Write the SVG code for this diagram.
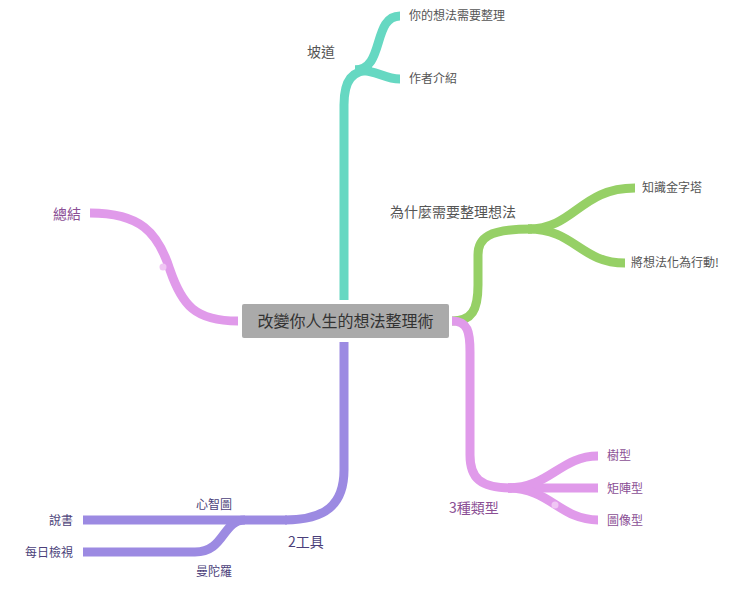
<svg xmlns="http://www.w3.org/2000/svg" width="740" height="592" viewBox="0 0 740 592">
<style>
text{font-family:"Noto Sans CJK TC","Noto Sans CJK SC",sans-serif;font-size:12px}
.c{fill:none;stroke-width:9;stroke-linecap:butt}
.t{stroke:#66d8c2}.g{stroke:#96d066}.p{stroke:#e09aea}.v{stroke:#9c8ae2}
.tg{fill:#555}.pk{fill:#8b4f95}.vt{fill:#4b3f7a}
</style>
<rect width="740" height="592" fill="#fff"/>
<g id="connectors">
<path class="c t" d="M344,300 L344,105 C344,80 352,70 372,70"/>
<path class="c t" d="M355,70 C385,70 372,16 400,16"/>
<path class="c t" d="M355,70 C380,70 382,79 400,79"/>
<path class="c g" d="M452,321 C472,321 478,310 478,285 L478,255 C478,238 488,229 532,229"/>
<path class="c g" d="M528,229 C575,229 580,188 635,188"/>
<path class="c g" d="M528,229 C575,229 580,263 625,263"/>
<path class="c p" d="M452,321 C468,321 470,332 470,352 L470,455 C470,478 480,488 512,488"/>
<path class="c p" d="M508,488 C550,488 560,456 598,456"/>
<path class="c p" d="M508,488 L598,488"/>
<path class="c p" d="M508,488 C550,488 560,520 598,520"/>
<path class="c p" d="M238,321 C195,321 182,305 170,270 C158,232 140,213 90,213"/>
<path class="c v" d="M344,342 L344,470 C344,505 325,520 285,520"/>
<path class="c v" d="M287,520 L83,520"/>
<path class="c v" d="M245,520 C222,520 225,552 195,552 L83,552"/>
<circle cx="163" cy="267" r="3.5" fill="#f0c6f4"/>
<circle cx="555" cy="505" r="3.5" fill="#f0c6f4"/>
</g>
<g id="center">
<rect x="242" y="304" width="207" height="34" rx="2" fill="#aaa"/>
<text x="345.5" y="327" text-anchor="middle" style="font-size:16px" fill="#333">改變你人生的想法整理術</text>
</g>
<g id="n1"><text x="307" y="57" class="tg" style="font-size:14px">坡道</text></g>
<g id="n1a"><text x="409" y="20" class="tg">你的想法需要整理</text></g>
<g id="n1b"><text x="409" y="83" class="tg">作者介紹</text></g>
<g id="n2"><text x="390" y="217" class="tg" style="font-size:14px">為什麼需要整理想法</text></g>
<g id="n2a"><text x="642" y="192" class="tg">知識金字塔</text></g>
<g id="n2b"><text x="631" y="267" class="tg">將想法化為行動!</text></g>
<g id="n3"><text x="449" y="513" class="pk" style="font-size:14px">3種類型</text></g>
<g id="n3a"><text x="607" y="460" class="pk">樹型</text></g>
<g id="n3b"><text x="607" y="493" class="pk">矩陣型</text></g>
<g id="n3c"><text x="607" y="525" class="pk">圖像型</text></g>
<g id="n4"><text x="53" y="219" class="pk" style="font-size:14px">總結</text></g>
<g id="n5"><text x="288" y="547" class="vt" style="font-size:14px">2工具</text></g>
<g id="n5a"><text x="196" y="509" class="vt">心智圖</text></g>
<g id="n5a1"><text x="73" y="525" class="vt" text-anchor="end">說書</text></g>
<g id="n5b"><text x="196" y="576" class="vt">曼陀羅</text></g>
<g id="n5b1"><text x="73" y="557" class="vt" text-anchor="end">每日檢視</text></g>
</svg>
